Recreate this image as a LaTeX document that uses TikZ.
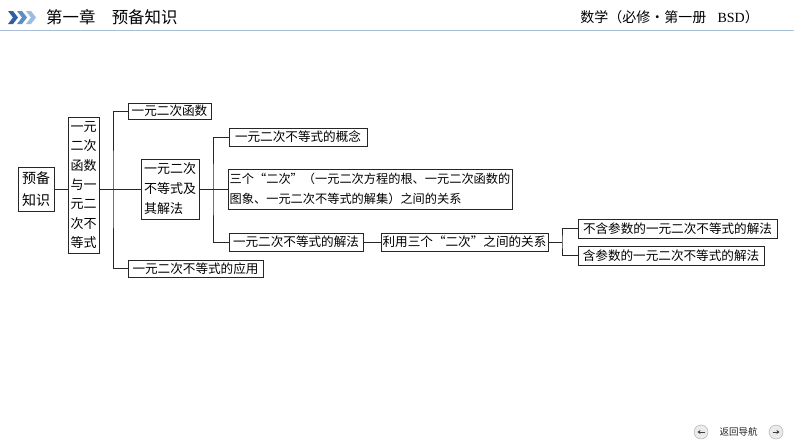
\documentclass[tikz,border=0pt]{standalone}
\usepackage{fontspec}
\setmainfont{Noto Sans CJK SC}
\newfontfamily\latinserif{Liberation Serif}
\usetikzlibrary{arrows.meta}
\definecolor{chevA}{HTML}{2F5F9E}
\definecolor{chevB}{HTML}{5E8DC4}
\definecolor{chevC}{HTML}{9CBCE0}
\definecolor{rulecol}{HTML}{A7BED6}
\tikzset{
  box/.style={draw=black!85, line width=0.95pt, inner sep=0pt, text=black,
    font=\fontsize{12.6}{19.5}\selectfont},
  conn/.style={draw=black!85, line width=0.95pt},
  navbtn/.style={circle, draw=black!35, fill=black!8, minimum size=14pt, inner sep=0pt},
}
\begin{document}
\begin{tikzpicture}[x=1pt,y=-1pt]
\useasboundingbox (0,0) rectangle (794,447);
\fill[white] (0,0) rectangle (794,447);

% header
\fill[chevA] (8,11) -- (13,11) -- (18,17.5) -- (13,24) -- (8,24) -- (13,17.5) -- cycle;
\fill[chevB] (17,11) -- (22,11) -- (27,17.5) -- (22,24) -- (17,24) -- (22,17.5) -- cycle;
\fill[chevC] (26,11) -- (31,11) -- (36,17.5) -- (31,24) -- (26,24) -- (31,17.5) -- cycle;
\node[anchor=west, inner sep=0pt, font=\fontsize{16.4}{16}\selectfont, text=black] (title) at (46,17) {第一章　预备知识};
\node[anchor=east, inner sep=0pt, font=\fontsize{14}{14}\selectfont, text=black] (book) at (759,17) {数学（必修·第一册\hspace{0.8em}{\latinserif BSD}）};
\draw[rulecol, line width=1.3pt] (0,30.5) -- (794,30.5);

% nodes
\node[box, minimum width=36pt, minimum height=44pt, align=left, font=\fontsize{14}{22}\selectfont] (A) at (36,189) {预备\\知识};
\node[box, minimum width=31pt, minimum height=136pt, align=left, font=\fontsize{13}{19.4}\selectfont] (B) at (83.5,185) {一元\\二次\\函数\\与一\\元二\\次不\\等式};
\node[box, minimum width=58pt, minimum height=60pt, align=left, font=\fontsize{13}{20}\selectfont] (C) at (170,189) {一元二次\\不等式及\\其解法};
\node[box, minimum width=83pt, minimum height=16pt] (D) at (169.5,111) {一元二次函数};
\node[box, minimum width=135pt, minimum height=17pt] (E) at (195.5,268.5) {一元二次不等式的应用};
\node[box, minimum width=138pt, minimum height=18pt] (F) at (298,137) {一元二次不等式的概念};
\node[box, minimum width=284pt, minimum height=40pt, align=left, font=\fontsize{12.2}{19.5}\selectfont] (G) at (370,189) {三个“二次”（一元二次方程的根、一元二次函数的\\图象、一元二次不等式的解集）之间的关系};
\node[box, minimum width=134pt, minimum height=18pt] (H) at (296,242) {一元二次不等式的解法};
\node[box, minimum width=167pt, minimum height=18pt] (I) at (464.5,242) {利用三个“二次”之间的关系};
\node[box, minimum width=199pt, minimum height=19pt] (J) at (677.5,228.5) {不含参数的一元二次不等式的解法};
\node[box, minimum width=186pt, minimum height=19pt] (K) at (671,255.5) {含参数的一元二次不等式的解法};

% junctions
\coordinate (s1) at (113,189);
\coordinate (s2) at (213,189);
\coordinate (s3) at (562,242);

% connectors
\draw[conn] (A.east) -- (A.east -| B.west);
\draw[conn] (B.east |- C.west) -- (C.west);
\draw[conn] (D.west) -| (s1) |- (E.west);
\draw[conn] (C.east) -- (s2);
\draw[conn] (s2) -- (G.west);
\draw[conn] (F.west) -| (s2) |- (H.west);
\draw[conn] (H.east) -- (I.west);
\draw[conn] (I.east) -- (s3);
\draw[conn] (J.west) -| (s3) |- (K.west);

% footer
\node[navbtn] (prev) at (701,432) {};
\node[navbtn] (next) at (776,432) {};
\draw[black!75, line width=1pt, -{Stealth[length=3pt,width=4pt]}] ([xshift=3.5pt]prev.center) -- ([xshift=-3.5pt]prev.center);
\draw[black!75, line width=1pt, -{Stealth[length=3pt,width=4pt]}] ([xshift=-3.5pt]next.center) -- ([xshift=3.5pt]next.center);
\node[inner sep=0pt, font=\fontsize{9.5}{10}\selectfont, text=black!85] (back) at (738.5,432) {返回导航};
\end{tikzpicture}
\end{document}
